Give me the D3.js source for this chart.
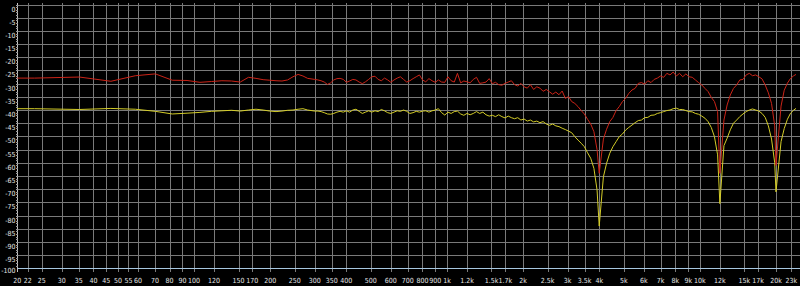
<!DOCTYPE html>
<html>
<head>
<meta charset="utf-8">
<script src="https://cdn.jsdelivr.net/npm/d3@7"></script>
<style>
  html, body { margin: 0; padding: 0; background: #000; }
  svg { display: block; }
  .lbl { font-family: "Liberation Sans Narrow", "DejaVu Sans Condensed", "Liberation Sans", sans-serif; font-size: 7px; fill: #e4e4e4; }
</style>
</head>
<body>
<div id="chart"></div>
<script>
// === spectrum plot, two channels — D3 v7 ===

// tick values
const xTicks = [20, 22, 25, 30, 35, 40, 45, 50, 55, 60, 70, 80, 90, 100, 120, 150, 170,
  200, 250, 300, 350, 400, 500, 600, 700, 800, 900, 1000, 1200, 1500, 1700,
  2000, 2500, 3000, 3500, 4000, 5000, 6000, 7000, 8000, 9000, 10000, 12000,
  15000, 17000, 20000, 23000];
const yTicks = d3.range(0, -101, -5);

// frequencies (Hz) shared by both traces
const freqs = [
  20, 23.4, 35.2, 46.9, 58.6, 70.3, 82.0, 93.8, 105.5, 117.2, 128.9, 140.6, 152.3, 164.1, 175.8, 187.5, 199.2, 210.9, 222.7, 234.4, 246.1, 257.8, 269.5, 281.3,
  300, 308.8, 317.9, 327.2, 336.7, 346.6, 356.8, 367.2, 378.0, 389.1, 400.5, 412.2, 424.3, 436.7, 449.5, 462.7, 476.2, 490.2, 504.5, 519.3, 534.5, 550.2, 566.3, 582.9,
  600, 617.6, 635.7, 654.3, 673.5, 693.2, 713.5, 734.4, 756, 778.1, 800.9, 824.4, 848.5, 873.4, 899, 925.3, 952.4, 980.3,
  1009, 1039, 1069, 1100, 1133, 1166, 1200, 1235, 1271, 1309, 1347, 1387, 1427, 1469, 1512, 1556, 1602, 1649, 1697, 1747, 1798, 1851, 1905, 1961,
  2018, 2078, 2138, 2201, 2266, 2332, 2400, 2471, 2543, 2618, 2694, 2773, 2855, 2938, 3024, 3113, 3204, 3298, 3395, 3494, 3597, 3702, 3811, 3922,
  4000, 4156, 4277, 4403, 4532, 4665, 4801, 4942, 5087, 5236, 5390, 5547, 5710, 5877, 6049, 6227, 6409, 6597, 6790, 6989, 7194, 7405, 7622, 7845,
  8075, 8312, 8555, 8806, 9064, 9330, 9603, 9885, 10175, 10473, 10780, 11096, 11421, 11755, 12000, 12454, 12819, 13195, 13582, 13980, 14389, 14811,
  15245, 15692, 16152, 16625, 17113, 17614, 18131, 18662, 19209, 19772, 20000, 20948, 21562, 22194, 22844, 23514, 24000
];

// red trace (dB)
const redDb = [
  -27.9, -27.9, -27.5, -29.1, -27.0, -26.3, -28.7, -28.8, -29.5, -29.2, -28.9, -29.0, -29.4, -27.6, -28.0, -28.5, -28.7, -28.9, -29.0, -28.6, -27.4, -26.5, -27.1, -28.0,
  -28.4, -28.6, -28.9, -29.4, -30.3, -29.7, -28.6, -28.1, -28.0, -28.4, -29.5, -29.0, -28.4, -28.6, -29.4, -30.0, -29.3, -28.4, -27.4, -27.2, -28.4, -28.9, -27.9, -28.6,
  -29.5, -28.6, -27.9, -27.4, -28.4, -29.4, -28.9, -28.1, -27.4, -26.7, -28.6, -29.3, -28.1, -28.9, -29.5, -28.6, -29.4, -29.5,
  -27.4, -28.9, -29.4, -26.1, -29.7, -29.0, -29.3, -29.7, -28.4, -27.6, -29.9, -29.7, -29.4, -28.1, -30.0, -29.5, -30.4, -30.6, -29.9, -29.4, -28.9, -30.4, -30.9, -29.9,
  -31.2, -31.7, -30.4, -32.2, -31.2, -31.7, -32.9, -32.2, -33.1, -34.0, -33.2, -34.2, -32.8, -35.6, -34.9, -36.8, -37.5, -38.7, -40.2, -41.5, -43.5, -45.3, -48.2, -55.0,
  -64.0, -51.0, -47.3, -44.4, -42.8, -40.2, -38.7, -36.8, -35.6, -33.7, -32.4, -31.8, -29.9, -29.6, -30.2, -28.9, -29.6, -28.4, -27.9, -27.1, -27.6, -26.1, -26.7, -25.6,
  -27.1, -26.1, -27.4, -26.3, -27.4, -27.6, -28.6, -29.6, -30.5, -31.8, -33.0, -35.2, -36.8, -40.6, -64.0, -43.8, -38.1, -34.3, -31.8, -30.5, -28.6, -28.4,
  -26.7, -26.1, -27.0, -26.7, -27.4, -28.2, -30.5, -33.5, -37.5, -46.0, -61.0, -38.5, -32.5, -29.8, -28.0, -27.0, -26.5
];

// yellow trace (dB)
const yellowDb = [
  -39.5, -39.5, -39.8, -39.4, -39.7, -40.5, -41.5, -41.2, -40.9, -40.5, -40.3, -40.1, -40.4, -40.0, -39.7, -40.0, -40.4, -40.6, -40.4, -40.1, -40.0, -39.7, -39.5, -40.0,
  -40.4, -40.4, -40.6, -41.0, -41.5, -41.6, -41.3, -40.8, -40.5, -40.8, -40.3, -40.8, -40.0, -39.7, -40.5, -41.3, -40.8, -40.3, -40.8, -40.3, -40.6, -39.8, -40.3, -41.0,
  -41.3, -40.8, -40.3, -40.5, -40.0, -40.5, -41.3, -41.0, -40.5, -40.8, -40.4, -40.3, -40.8, -40.3, -40.0, -39.5, -41.0, -41.9,
  -40.8, -41.3, -40.6, -40.4, -41.5, -42.0, -41.3, -41.8, -41.3, -40.6, -41.3, -40.8, -41.8, -42.3, -42.0, -42.5, -41.8, -42.5, -43.0, -42.3, -42.9, -43.3, -42.9, -43.8,
  -43.4, -44.2, -43.8, -44.5, -44.2, -44.8, -44.4, -45.3, -45.8, -45.3, -46.0, -46.3, -46.9, -47.4, -48.0, -48.6, -50.1, -51.4, -52.6, -53.9, -56.2, -58.3, -62.1, -70.3,
  -84.0, -65.3, -60.2, -56.4, -53.9, -52.0, -50.1, -49.1, -47.6, -46.6, -45.7, -44.8, -44.0, -43.8, -42.9, -42.8, -42.0, -41.9, -41.3, -41.0, -40.6, -40.2, -40.0, -39.5,
  -39.3, -39.8, -39.8, -40.2, -40.6, -40.7, -41.3, -41.6, -42.3, -43.1, -44.4, -46.6, -50.1, -57.0, -75.5, -53.5, -50.7, -47.5, -45.0, -43.8, -42.5, -41.5,
  -40.6, -40.0, -39.6, -40.0, -40.4, -41.3, -42.8, -46.0, -51.0, -60.0, -71.0, -52.0, -47.0, -43.5, -41.2, -40.0, -39.4
];

// sizing
const outerW = 800, outerH = 286;
const plotL = 17.3, plotR = 796, plotT = 4.5, plotB = 268.3;

const svg = d3.select("#chart").append("svg")
  .attr("width", outerW)
  .attr("height", outerH);

svg.append("rect").attr("width", outerW).attr("height", outerH).attr("fill", "#000");

const x = d3.scaleLog().domain([20, 24000]).range([plotL, plotR]);
const y = d3.scaleLinear().domain([-100, 0]).range([plotB, plotT]);
const px = v => Math.round(v) + 0.5;

const fmtHz = v => v >= 1000 ? (v / 1000) + "k" : String(v);

// grid
const grid = svg.append("g").attr("shape-rendering", "crispEdges");
grid.selectAll("line.h").data(yTicks.filter(v => v > -100)).enter().append("line")
  .attr("class", "h")
  .attr("x1", plotL).attr("x2", outerW)
  .attr("y1", d => px(y(d))).attr("y2", d => px(y(d)))
  .attr("stroke", "#7a7a7a").attr("stroke-width", 1);
grid.selectAll("line.v").data(xTicks.slice(1)).enter().append("line")
  .attr("class", "v")
  .attr("x1", d => px(x(d))).attr("x2", d => px(x(d)))
  .attr("y1", 3).attr("y2", plotB + 3.5)
  .attr("stroke", "#7a7a7a").attr("stroke-width", 1);

// axes
grid.append("line")
  .attr("x1", plotL).attr("x2", outerW)
  .attr("y1", px(y(-100))).attr("y2", px(y(-100)))
  .attr("stroke", "#a6c6df");
grid.append("line")
  .attr("x1", px(plotL)).attr("x2", px(plotL))
  .attr("y1", 3).attr("y2", plotB + 3.5)
  .attr("stroke", "#c4c4c4");
grid.selectAll("line.minor").data(d3.range(0, -100, -1)).enter().append("line")
  .attr("class", "minor")
  .attr("x1", px(plotL) - 2).attr("x2", px(plotL))
  .attr("y1", d => px(y(d))).attr("y2", d => px(y(d)))
  .attr("stroke", "#9a9a9a");

// tick labels
svg.append("g").selectAll("text").data(yTicks).enter().append("text")
  .attr("class", "lbl")
  .attr("x", 15.5)
  .attr("y", d => d === -100 ? 273 : y(d) + 7)
  .attr("text-anchor", "end")
  .text(d => String(d));

svg.append("g").selectAll("text").data(xTicks).enter().append("text")
  .attr("class", "lbl")
  .attr("x", d => x(d))
  .attr("y", 282.5)
  .attr("text-anchor", "middle")
  .text(fmtHz);

// traces
const line = d3.line().x(d => x(d[0])).y(d => y(d[1]));
const traces = [
  { name: "yellow", values: yellowDb, color: "#d4cd28" },
  { name: "red", values: redDb, color: "#cc2418" }
];

svg.append("g").selectAll("path").data(traces).enter().append("path")
  .attr("fill", "none")
  .attr("stroke", d => d.color)
  .attr("stroke-width", 1)
  .attr("stroke-linejoin", "round")
  .attr("d", d => line(freqs.map((f, i) => [f, d.values[i]])));
</script>
</body>
</html>
